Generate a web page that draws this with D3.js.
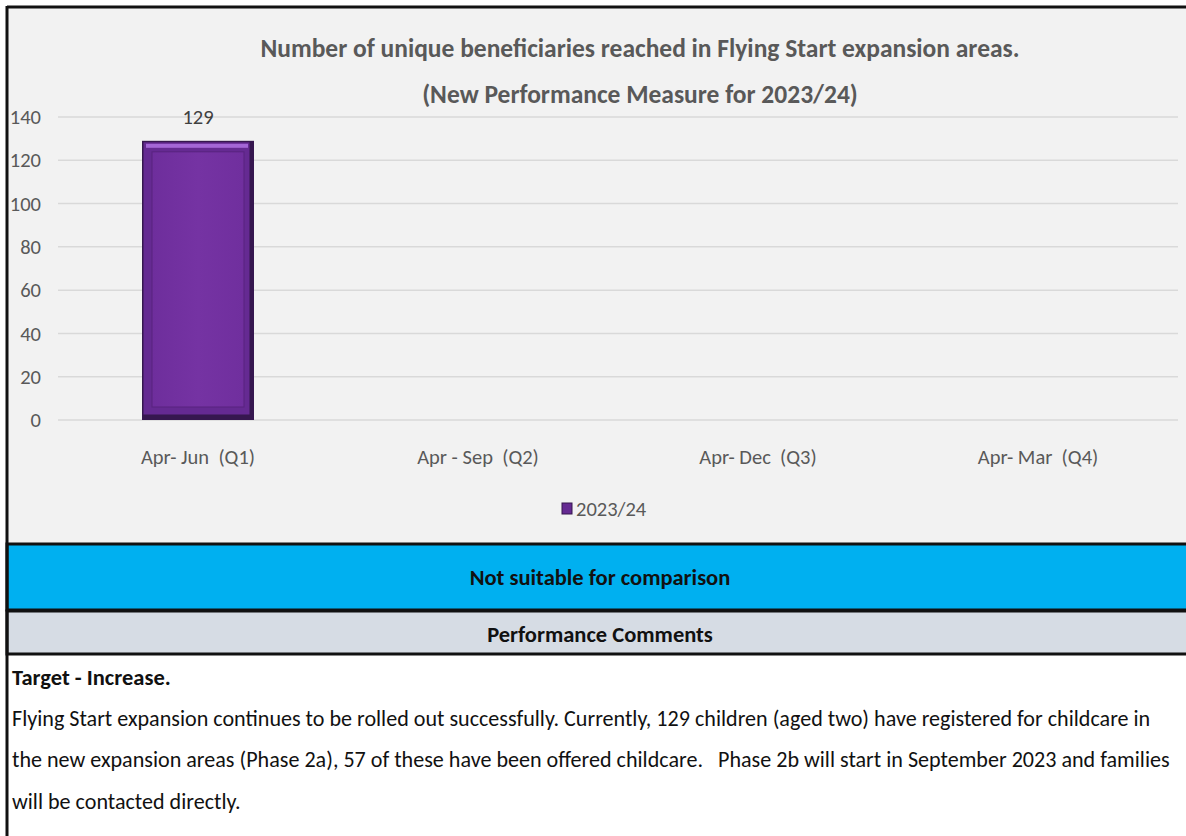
<!DOCTYPE html>
<html lang="en">
<head>
  <meta charset="UTF-8">
  <title>Flying Start expansion beneficiaries</title>
  <script src="https://d3js.org/d3.v7.min.js"></script>
  <style>
    body { margin: 0; background: #fff; }
    svg { display: block; font-family: Carlito, Lato, sans-serif; }
    .grid line { stroke: #d9d9d9; stroke-width: 1.5px; }
    .axis text { fill: #595959; font-size: 20.5px; }
    .title { fill: #595959; font-size: 25.5px; font-weight: bold; text-anchor: middle; }
    .band-label { font-size: 22.5px; font-weight: bold; fill: #111; text-anchor: middle; }
  </style>
</head>
<body>
  <div id="chart"></div>
  <script>
    const categories = ["Apr- Jun  (Q1)", "Apr - Sep  (Q2)", "Apr- Dec  (Q3)", "Apr- Mar  (Q4)"];
    const values2023 = [129, null, null, null];
    const yTicks = [0, 20, 40, 60, 80, 100, 120, 140];
    const seriesName = "2023/24";
    const titleLines = [
      "Number of unique beneficiaries reached in Flying Start expansion areas.",
      "(New Performance Measure for 2023/24)"
    ];
    const statusText = "Not suitable for comparison";
    const headerText = "Performance Comments";
    const targetText = "Target - Increase.";
    const commentLines = [
      "Flying Start expansion continues to be rolled out successfully. Currently, 129 children (aged two) have registered for childcare in",
      "the new expansion areas (Phase 2a), 57 of these have been offered childcare.   Phase 2b will start in September 2023 and families",
      "will be contacted directly."
    ];

    const W = 1186, H = 836;
    const svg = d3.select("#chart").append("svg")
      .attr("width", W).attr("height", H);

    // chart panel
    svg.append("rect").attr("x", 7).attr("y", 7).attr("width", W - 7).attr("height", 537)
      .attr("fill", "#f2f2f2");

    const plot = { left: 58, right: 1178, top: 117, bottom: 420 };

    const x = d3.scaleBand().domain(categories).range([plot.left, plot.right]).paddingInner(0.6).paddingOuter(0.3);
    const y = d3.scaleLinear().domain([0, 140]).range([plot.bottom, plot.top]);

    svg.append("g").attr("class", "grid")
      .selectAll("line").data(yTicks).join("line")
      .attr("x1", plot.left).attr("x2", plot.right)
      .attr("y1", d => y(d)).attr("y2", d => y(d));

    svg.append("g").attr("class", "axis")
      .selectAll("text").data(yTicks).join("text")
      .attr("x", 41).attr("y", d => y(d)).attr("dy", "0.35em")
      .attr("text-anchor", "end")
      .text(d => d);

    const band = d3.scaleBand().domain(categories).range([plot.left, plot.right]);
    svg.append("g").attr("class", "axis")
      .selectAll("text").data(categories).join("text")
      .attr("x", d => band(d) + band.bandwidth() / 2).attr("y", 457)
      .attr("text-anchor", "middle").attr("dy", "0.35em")
      .attr("xml:space", "preserve")
      .text(d => d);

    // bevelled bars
    const defs = svg.append("defs");
    const grad = defs.append("linearGradient").attr("id", "barGrad").attr("x1", 0).attr("x2", 1);
    grad.append("stop").attr("offset", "0").attr("stop-color", "#6e2e9c");
    grad.append("stop").attr("offset", "0.5").attr("stop-color", "#7533a3");
    grad.append("stop").attr("offset", "1").attr("stop-color", "#702f9e");

    const bars = svg.append("g").selectAll("g")
      .data(categories.map((c, i) => ({ c, v: values2023[i] })).filter(d => d.v != null))
      .join("g");
    bars.append("rect")
      .attr("x", d => x(d.c)).attr("y", d => y(d.v))
      .attr("width", x.bandwidth()).attr("height", d => y(0) - y(d.v))
      .attr("fill", "#36174f");
    bars.append("rect")
      .attr("x", d => x(d.c) + 1.5).attr("y", d => y(d.v) + 1.5)
      .attr("width", x.bandwidth() - 6).attr("height", d => y(0) - y(d.v) - 7)
      .attr("fill", "#652a92");
    bars.append("rect")
      .attr("x", d => x(d.c) + 4).attr("y", d => y(d.v) + 3)
      .attr("width", x.bandwidth() - 10).attr("height", 4)
      .attr("fill", "#a466d6");
    bars.append("rect")
      .attr("x", d => x(d.c) + 10).attr("y", d => y(d.v) + 11)
      .attr("width", x.bandwidth() - 20).attr("height", d => y(0) - y(d.v) - 24)
      .attr("fill", "url(#barGrad)").attr("stroke", "#58237f").attr("stroke-width", 1);
    bars.append("text")
      .attr("x", d => x(d.c) + x.bandwidth() / 2).attr("y", d => y(d.v) - 24)
      .attr("text-anchor", "middle").attr("dy", "0.35em")
      .attr("fill", "#404040").style("font-size", "20.5px")
      .text(d => d.v);

    // title
    svg.selectAll(".title").data(titleLines).join("text")
      .attr("class", "title")
      .attr("x", 640).attr("y", (d, i) => 48 + i * 46).attr("dy", "0.35em")
      .text(d => d);

    // legend
    const lg = svg.append("g");
    lg.append("rect").attr("x", 562).attr("y", 503).attr("width", 10).attr("height", 11)
      .attr("fill", "#652a92").attr("stroke", "#36174f");
    lg.append("text").attr("x", 576).attr("y", 509).attr("dy", "0.35em")
      .attr("fill", "#595959").style("font-size", "20.5px").text(seriesName);

    // status band
    svg.append("rect").attr("x", 7).attr("y", 544).attr("width", W).attr("height", 66)
      .attr("fill", "#00b0f0").attr("stroke", "#111").attr("stroke-width", 3);
    svg.append("text").attr("class", "band-label").attr("x", 600).attr("y", 577).attr("dy", "0.35em")
      .text(statusText);

    // header band
    svg.append("rect").attr("x", 7).attr("y", 611).attr("width", W).attr("height", 43)
      .attr("fill", "#d6dce4").attr("stroke", "#111").attr("stroke-width", 3);
    svg.append("text").attr("class", "band-label").attr("x", 600).attr("y", 634).attr("dy", "0.35em")
      .text(headerText);

    // panel borders
    svg.append("line").attr("x1", 7).attr("x2", W).attr("y1", 7).attr("y2", 7)
      .attr("stroke", "#111").attr("stroke-width", 3);
    svg.append("line").attr("x1", 7).attr("x2", 7).attr("y1", 6).attr("y2", H)
      .attr("stroke", "#111").attr("stroke-width", 3);

    // comments
    svg.append("text").attr("x", 12).attr("y", 677).attr("dy", "0.35em")
      .attr("font-weight", "bold").style("font-size", "22.5px").attr("fill", "#111")
      .text(targetText);
    svg.selectAll(".comment").data(commentLines).join("text")
      .attr("class", "comment")
      .attr("x", 12).attr("y", (d, i) => 718 + i * 41.5).attr("dy", "0.35em")
      .attr("xml:space", "preserve")
      .style("font-size", "22.1px").attr("fill", "#111")
      .text(d => d);
  </script>
</body>
</html>
